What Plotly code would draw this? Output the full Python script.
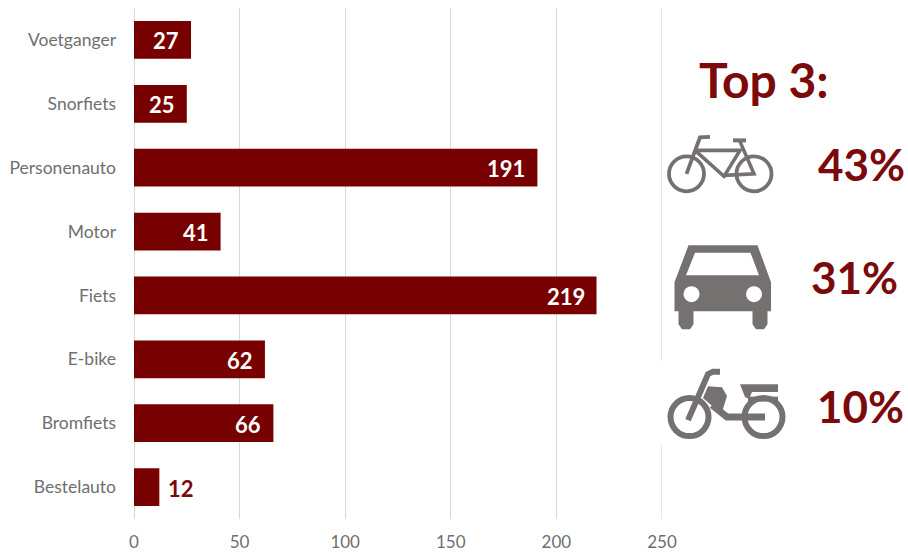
import plotly.graph_objects as go

categories = ["Voetganger", "Snorfiets", "Personenauto", "Motor", "Fiets", "E-bike", "Bromfiets", "Bestelauto"]
values = [27, 25, 191, 41, 219, 62, 66, 12]
x_ticks = [0, 50, 100, 150, 200, 250]
top_labels = ["43%", "31%", "10%"]

W, H = 908, 554
L, R, T, B = 134, 662, 7.5, 519
RED = "#770000"
TXT_RED = "#7b0a0a"
GREY = "#767171"
LABEL = "#6f6f6f"
FONT = "Lato"

def px(x): return (x - L) / (R - L)
def py(y): return (B - y) / (B - T)

def P(*pts, close=False):
    s = "M" + " L".join(f"{px(x):.5f},{py(y):.5f}" for x, y in pts)
    return s + (" Z" if close else "")

def poly(*pts, fill=GREY):
    return dict(type="path", xref="paper", yref="paper", path=P(*pts, close=True),
                fillcolor=fill, line=dict(width=0), layer="above")

def stroke(*pts, w=3.5, color=GREY):
    return dict(type="path", xref="paper", yref="paper", path=P(*pts),
                line=dict(color=color, width=w), layer="above")

def circle(cx, cy, r, w=None, fill=None, color=GREY):
    d = dict(type="circle", xref="paper", yref="paper", x0=px(cx - r), x1=px(cx + r),
             y0=py(cy + r), y1=py(cy - r), layer="above")
    if w:
        d["line"] = dict(color=color, width=w)
        d["fillcolor"] = "rgba(0,0,0,0)"
    else:
        d["line"] = dict(width=0)
        d["fillcolor"] = fill or color
    return d

shapes = [
    # last gridline, at the end of the axis range
    dict(type="line", xref="x", yref="paper", x0=x_ticks[-1], x1=x_ticks[-1], y0=0, y1=1,
         line=dict(color="#d9d9d9", width=1.3), layer="above"),
    # gap in the last gridline behind the moped
    dict(type="rect", xref="paper", yref="paper", x0=px(655), x1=px(670), y0=py(445), y1=py(361),
         fillcolor="white", line=dict(width=0), layer="above"),
]
# bicycle
shapes += [
    circle(686.5, 173.5, 17.5, w=3.8), circle(754, 173.5, 17.5, w=3.8),
    stroke((686.5, 173.5), (700, 137), (710, 136.5), w=3.8),
    stroke((695, 150), (740, 150), (724, 176), (695, 150), w=3.6),
    stroke((733, 140), (746, 140), w=4),
    stroke((739.5, 140), (754, 173.5), (724, 175), w=3.6),
]
# car
shapes += [
    poly((688.5, 245), (757.5, 245), (771, 282), (771, 311), (767.5, 311), (767.5, 324), (764, 329), (756, 329),
         (752.5, 324), (752.5, 311), (693.5, 311), (693.5, 324), (690, 329), (682, 329), (678.5, 324), (678.5, 311),
         (674.5, 311), (674.5, 282)),
    poly((695, 252.5), (750.5, 252.5), (759, 275), (686, 275), fill="white"),
    circle(691.5, 294, 8, fill="white"), circle(754, 294, 8, fill="white"),
]
# moped
shapes += [
    circle(689.5, 417, 19, w=6), circle(763.5, 417, 19, w=6),
    stroke((688, 420), (708, 374), (713, 371.5), (720, 371.5), w=6),
    poly((708, 386), (722, 387), (727, 396), (722, 412), (711, 405), (703, 398)),
    stroke((712, 405), (727, 417), (765, 417), w=7),
    poly((740, 384), (778, 384), (778, 392), (752, 392), (749, 399), (745, 397)),
    stroke((748, 399), (778, 399), w=5),
]

fig = go.Figure(go.Bar(
    x=values, y=categories, orientation="h", marker=dict(color=RED, line=dict(width=0)),
    width=0.59, hoverinfo="x+y",
))

annotations = []
for c, v in zip(categories, values):
    inside = v >= 20
    annotations.append(dict(
        x=v, y=c, xref="x", yref="y", text=f"<b>{v}</b>", showarrow=False,
        xanchor="right" if inside else "left", xshift=-10 if inside else 7, yshift=-1,
        font=dict(family=FONT, size=22, color="white" if inside else TXT_RED),
    ))

annotations.append(dict(x=px(763.5), y=py(79), xref="paper", yref="paper", text="<b>Top 3:</b>",
                        showarrow=False, xanchor="center", yanchor="middle",
                        font=dict(family=FONT, size=48, color=TXT_RED)))
for label, (cx, cy) in zip(top_labels, [(861, 164), (854, 277), (860, 406)]):
    annotations.append(dict(x=px(cx), y=py(cy), xref="paper", yref="paper", text=f"<b>{label}</b>",
                            showarrow=False, xanchor="center", yanchor="middle",
                            font=dict(family=FONT, size=44, color=TXT_RED)))

fig.update_layout(
    width=W, height=H, autosize=False,
    margin=dict(l=L, r=W - R, t=T, b=H - B),
    paper_bgcolor="white", plot_bgcolor="white",
    showlegend=False,
    font=dict(family=FONT, size=17.5, color=LABEL),
    xaxis=dict(range=[0, 250], tickvals=x_ticks, showgrid=True, gridcolor="#d9d9d9", gridwidth=1.3,
               zeroline=True, zerolinecolor="#d9d9d9", zerolinewidth=1.3, showline=False, automargin=False,
               ticks="", ticklabelstandoff=11, tickfont=dict(size=17, color=LABEL)),
    yaxis=dict(categoryorder="array", categoryarray=categories[::-1], showgrid=False, zeroline=False,
               showline=False, automargin=False,
               ticks="", ticklabelstandoff=17, tickfont=dict(size=17.5, color=LABEL)),
    shapes=shapes, annotations=annotations,
)

fig.write_html("out.html", config=dict(displayModeBar=False),
               post_script="document.body.style.margin='0';document.documentElement.style.overflow='hidden';")
